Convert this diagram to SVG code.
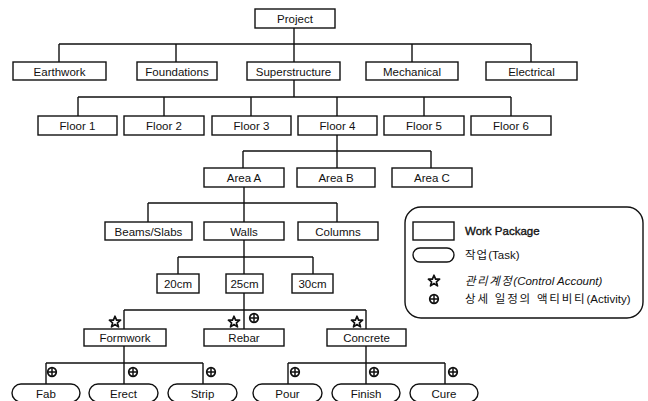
<svg xmlns="http://www.w3.org/2000/svg" xmlns:xlink="http://www.w3.org/1999/xlink" width="648" height="401" viewBox="0 0 648 401">
  <style>
    .box { fill: #fff; stroke: #111; stroke-width: 1.4; }
    .pill { fill: #fff; stroke: #111; stroke-width: 1.4; }
    .wire { fill: none; stroke: #111; stroke-width: 1.4; }
    .lbl { font-family: "Liberation Sans", Arial, "Noto Sans CJK KR", sans-serif; font-size: 11.5px; fill: #111; text-anchor: middle; }
    .leg { font-family: "Liberation Sans", Arial, "Noto Sans CJK KR", sans-serif; font-size: 11.5px; fill: #111; }
    .sym { fill: #fff; stroke: #111; stroke-width: 1.7; }
  </style>
  <defs>
    <!-- control account mark -->
    <polygon id="star" class="sym" stroke-linejoin="round" points="0,-5.8 1.6,-1.9 5.6,-1.8 2.4,0.8 3.5,4.9 0,2.5 -3.5,4.9 -2.4,0.8 -5.6,-1.8 -1.6,-1.9"/>
    <!-- schedule activity mark -->
    <g id="act">
      <circle class="sym" r="4.3"/>
      <path d="M-4.3,0H4.3M0,-4.3V4.3" stroke="#111" stroke-width="1.5"/>
    </g>
  </defs>

  <g id="connectors">
    <path class="wire" d="M294,28V44 M59,44H531 M59,44V62 M176,44V62 M294,44V62 M412,44V62 M531,44V62"/>
    <path class="wire" d="M294,80V97 M78,97H511 M78,97V116 M164,97V116 M251,97V116 M337,97V116 M424,97V116 M511,97V116"/>
    <path class="wire" d="M337,135V151 M243,151H431 M243,151V168 M337,151V168 M431,151V168"/>
    <path class="wire" d="M244,187V203 M148,203H337 M148,203V222 M244,203V222 M337,203V222"/>
    <path class="wire" d="M244,240V257 M178,257H313 M178,257V274 M244,257V274 M313,257V274"/>
    <path class="wire" d="M244,293V310 M124,310H366 M124,310V329 M244,310V329 M366,310V329"/>
    <path class="wire" d="M124,346V363 M46,363H203 M46,363V384 M124,363V384 M203,363V384"/>
    <path class="wire" d="M366,346V363 M288,363H445 M288,363V384 M366,363V384 M445,363V384"/>
  </g>

  <g id="project"><rect class="box" x="255" y="9" width="80" height="19"/><text class="lbl" x="295" y="23">Project</text></g>

  <g id="earthwork"><rect class="box" x="13" y="62" width="93" height="18"/><text class="lbl" x="59.5" y="75.5">Earthwork</text></g>
  <g id="foundations"><rect class="box" x="137" y="62" width="80" height="18"/><text class="lbl" x="177" y="75.5">Foundations</text></g>
  <g id="superstructure"><rect class="box" x="247" y="62" width="93" height="18"/><text class="lbl" x="293.5" y="75.5">Superstructure</text></g>
  <g id="mechanical"><rect class="box" x="366" y="62" width="92" height="18"/><text class="lbl" x="412" y="75.5">Mechanical</text></g>
  <g id="electrical"><rect class="box" x="486" y="62" width="91" height="18"/><text class="lbl" x="531.5" y="75.5">Electrical</text></g>

  <g id="floor1"><rect class="box" x="38" y="116" width="79" height="19"/><text class="lbl" x="77.5" y="130">Floor 1</text></g>
  <g id="floor2"><rect class="box" x="124" y="116" width="80" height="19"/><text class="lbl" x="164" y="130">Floor 2</text></g>
  <g id="floor3"><rect class="box" x="212" y="116" width="79" height="19"/><text class="lbl" x="251.5" y="130">Floor 3</text></g>
  <g id="floor4"><rect class="box" x="298" y="116" width="79" height="19"/><text class="lbl" x="337.5" y="130">Floor 4</text></g>
  <g id="floor5"><rect class="box" x="384" y="116" width="80" height="19"/><text class="lbl" x="424" y="130">Floor 5</text></g>
  <g id="floor6"><rect class="box" x="471" y="116" width="80" height="19"/><text class="lbl" x="511" y="130">Floor 6</text></g>

  <g id="area-a"><rect class="box" x="204" y="168" width="80" height="19"/><text class="lbl" x="244" y="182">Area A</text></g>
  <g id="area-b"><rect class="box" x="297" y="168" width="78" height="19"/><text class="lbl" x="336" y="182">Area B</text></g>
  <g id="area-c"><rect class="box" x="392" y="168" width="80" height="19"/><text class="lbl" x="432" y="182">Area C</text></g>

  <g id="beams-slabs"><rect class="box" x="105" y="222" width="87" height="18"/><text class="lbl" x="148.5" y="235.5">Beams/Slabs</text></g>
  <g id="walls"><rect class="box" x="204" y="222" width="80" height="18"/><text class="lbl" x="244" y="235.5">Walls</text></g>
  <g id="columns"><rect class="box" x="298" y="222" width="80" height="18"/><text class="lbl" x="338" y="235.5">Columns</text></g>

  <g id="w20"><rect class="box" x="157" y="274" width="42" height="19"/><text class="lbl" x="178" y="288">20cm</text></g>
  <g id="w25"><rect class="box" x="226" y="274" width="37" height="19"/><text class="lbl" x="244.5" y="288">25cm</text></g>
  <g id="w30"><rect class="box" x="292" y="274" width="41" height="19"/><text class="lbl" x="312.5" y="288">30cm</text></g>

  <g id="formwork"><rect class="box" x="84" y="329" width="82" height="17"/><text class="lbl" x="125" y="342">Formwork</text><use xlink:href="#star" x="115" y="322"/></g>
  <g id="rebar"><rect class="box" x="204" y="329" width="80" height="17"/><text class="lbl" x="244" y="342">Rebar</text><use xlink:href="#star" x="234" y="322"/><use xlink:href="#act" x="254" y="318"/></g>
  <g id="concrete"><rect class="box" x="327" y="329" width="79" height="17"/><text class="lbl" x="366.5" y="342">Concrete</text><use xlink:href="#star" x="357" y="322"/></g>

  <g id="fab"><rect class="pill" x="12" y="384" width="68" height="18" rx="9"/><text class="lbl" x="46" y="398">Fab</text><use xlink:href="#act" x="52" y="372"/></g>
  <g id="erect"><rect class="pill" x="89" y="384" width="69" height="18" rx="9"/><text class="lbl" x="123.5" y="398">Erect</text><use xlink:href="#act" x="133" y="372"/></g>
  <g id="strip"><rect class="pill" x="168" y="384" width="69" height="18" rx="9"/><text class="lbl" x="202.5" y="398">Strip</text><use xlink:href="#act" x="211" y="372"/></g>
  <g id="pour"><rect class="pill" x="253" y="384" width="69" height="18" rx="9"/><text class="lbl" x="287.5" y="398">Pour</text><use xlink:href="#act" x="295" y="372"/></g>
  <g id="finish"><rect class="pill" x="332" y="384" width="68" height="18" rx="9"/><text class="lbl" x="366" y="398">Finish</text><use xlink:href="#act" x="374" y="372"/></g>
  <g id="cure"><rect class="pill" x="410" y="384" width="68" height="18" rx="9"/><text class="lbl" x="444" y="398">Cure</text><use xlink:href="#act" x="453" y="372"/></g>

  <g id="legend">
    <rect x="405" y="207" width="238" height="111" rx="16" fill="#fff" stroke="#111" stroke-width="1.4"/>
    <rect class="box" x="413" y="222" width="41" height="18"/>
    <text class="leg" x="465" y="235" stroke="#111" stroke-width="0.35">Work Package</text>
    <rect class="pill" x="413" y="248" width="41" height="14" rx="7"/>
    <text class="leg" x="465" y="259"><tspan letter-spacing="1">작업</tspan>(Task)</text>
    <use xlink:href="#star" x="434" y="281"/>
    <text class="leg" x="465" y="285" font-style="italic"><tspan letter-spacing="1.5">관리계정</tspan>(Control Account)</text>
    <use xlink:href="#act" x="434" y="299"/>
    <text class="leg" x="465" y="303"><tspan letter-spacing="1.8">상세 일정의 액티비티</tspan>(Activity)</text>
  </g>
</svg>
